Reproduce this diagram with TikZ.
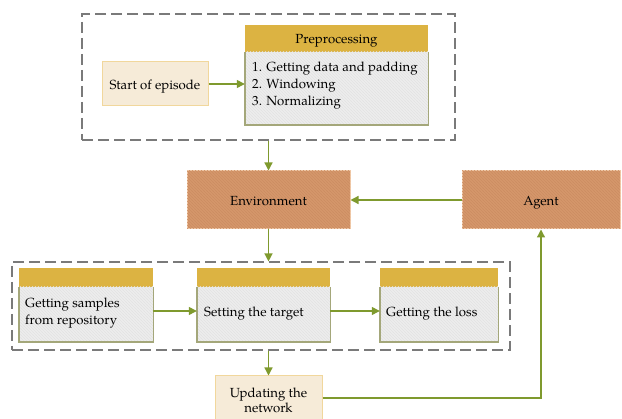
\documentclass[tikz,border=0pt]{standalone}
\usepackage{fontspec}
\setmainfont{TeX Gyre Pagella}
\usetikzlibrary{arrows.meta,patterns,positioning}
\definecolor{arrowgreen}{HTML}{7F9A2E}
\definecolor{dashgray}{HTML}{7A7A7A}
\definecolor{gold}{HTML}{DCB342}
\definecolor{bodygray}{HTML}{EDEDED}
\definecolor{stripegray}{HTML}{E3E3E3}
\definecolor{bodyedge}{HTML}{A4A77A}
\definecolor{orangefill}{HTML}{D5976B}
\definecolor{orangestripe}{HTML}{CC8D62}
\definecolor{orangeedge}{HTML}{F0C9A8}
\definecolor{beigefill}{HTML}{F6EBD8}
\definecolor{beigeedge}{HTML}{F1D79C}
\tikzset{
  conn/.style={draw=arrowgreen, line width=1.3pt, -{Triangle[length=8pt,width=8pt]}},
  dashbox/.style={draw=dashgray, line width=1.1pt, dash pattern=on 11pt off 5pt, inner sep=0pt},
  beigebox/.style={draw=beigeedge, fill=beigefill, line width=1pt, align=center, inner sep=2pt, font=\fontsize{13.2}{15}\selectfont},
  orangebox/.style={draw=orangeedge, fill=orangefill, line width=1pt, postaction={pattern=north west lines, pattern color=orangestripe}, font=\fontsize{13.2}{16}\selectfont, text height=13pt, text depth=2pt},
  headbox/.style={fill=gold, inner sep=0pt, font=\fontsize{13.2}{16}\selectfont, text height=12pt, text depth=2pt},
  bodybox/.style={fill=bodygray, postaction={pattern=north west lines, pattern color=stripegray}, inner sep=0pt},
  bodyedgeline/.style={draw=bodyedge, line width=1.4pt},
  btext/.style={align=left, anchor=west, inner sep=0pt, font=\fontsize{13.2}{17}\selectfont},
  ctext/.style={align=center, inner sep=0pt, font=\fontsize{13.2}{15}\selectfont}
}
\begin{document}
\begin{tikzpicture}[x=1pt,y=-1pt]
\useasboundingbox (0,0) rectangle (622,419);
% top group
\node[dashbox, minimum width=373pt, minimum height=126pt] (topdash) at (268.5,77) {};
\node[beigebox, minimum width=106pt, minimum height=44pt, text height=13pt, text depth=2pt] (start) at (155,84) {Start of episode};
\node[headbox, minimum width=183pt, minimum height=27pt] (prehead) at (336.5,38.5) {Preprocessing};
\node[bodybox, minimum width=183pt, minimum height=73pt] (prebody) at (336.5,88.5) {};
\draw[bodyedgeline] (prebody.north west) -- (prebody.south west) -- (prebody.south east) -- (prebody.north east);
\node[btext] (pretext) at (252,86) {1. Getting data and padding\\2. Windowing\\3. Normalizing};
\draw[conn] (start) -- (prebody.west |- start);
% middle
\node[orangebox, minimum width=163pt, minimum height=58pt] (env) at (268.5,200) {Environment};
\node[orangebox, minimum width=158pt, minimum height=58pt] (agent) at (541,200) {Agent};
\draw[conn] (topdash.south -| env.north) -- (env.north);
\draw[conn] (agent.west) -- (env.east);
% bottom group
\node[dashbox, minimum width=498pt, minimum height=88pt] (botdash) at (261,306) {};
\node[headbox, minimum width=134pt, minimum height=19pt] (h1) at (86,277.5) {};
\node[bodybox, minimum width=134pt, minimum height=55pt] (b1) at (86,314.5) {};
\node[headbox, minimum width=133pt, minimum height=19pt] (h2) at (263.5,277.5) {};
\node[bodybox, minimum width=133pt, minimum height=55pt] (b2) at (263.5,314.5) {};
\node[headbox, minimum width=118pt, minimum height=19pt] (h3) at (439,277.5) {};
\node[bodybox, minimum width=118pt, minimum height=55pt] (b3) at (439,314.5) {};
\foreach \b in {b1,b2,b3}{
  \draw[bodyedgeline] (\b.north west) -- (\b.south west) -- (\b.south east) -- (\b.north east);
}
\node[btext] (t1) at (25,313) {Getting samples\\from repository};
\node[btext] (t2) at (204,314) {Setting the target};
\node[btext] (t3) at (386,314) {Getting the loss};
\draw[conn] (b1.east |- 0,311) -- (b2.west |- 0,311);
\draw[conn] (b2.east |- 0,311) -- (b3.west |- 0,311);
\draw[conn] (env.south) -- (env.south |- botdash.north);
% update
\node[beigebox, minimum width=107pt, minimum height=44pt] (upd) at (268.5,398) {};
\node[ctext] (updtext) at (268.5,400) {Updating the\\network};
\draw[conn] (upd.north |- botdash.south) -- (upd.north);
\draw[conn] (upd.east) -| (agent.south);
\end{tikzpicture}
\end{document}
